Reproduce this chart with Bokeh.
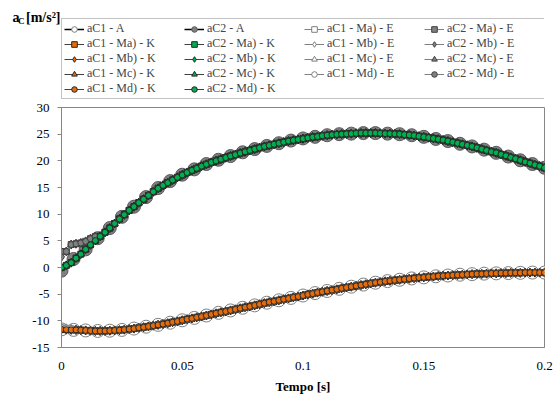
from bokeh.plotting import figure
from bokeh.models import Legend, LegendItem, LinearAxis, FixedTicker, Range1d
from bokeh.layouts import column
from bokeh.embed import file_html
from bokeh.resources import INLINE

# ---------------- data ----------------
t_k = [round(i * 0.002, 3) for i in range(101)]   # K / E sampling
t_a = [round(i * 0.005, 3) for i in range(41)]    # analytic sampling

aC2_K = [0.0, 0.4, 0.9, 1.75, 2.5, 3.4, 4.25, 5.05, 5.85, 6.6,
         7.4, 8.25, 9.1, 9.9, 10.7, 11.4, 12.15, 12.8, 13.5, 14.2,
         14.85, 15.4, 15.9, 16.4, 16.9, 17.35, 17.8, 18.2, 18.6, 19.0,
         19.35, 19.7, 20.0, 20.3, 20.6, 20.9, 21.15, 21.45, 21.7, 21.95,
         22.2, 22.45, 22.7, 22.9, 23.1, 23.3, 23.5, 23.7, 23.85, 24.0,
         24.15, 24.3, 24.45, 24.55, 24.7, 24.8, 24.9, 24.95, 25.0, 25.05,
         25.1, 25.15, 25.2, 25.2, 25.2, 25.2, 25.15, 25.1, 25.1, 25.05,
         25.0, 24.9, 24.85, 24.75, 24.6, 24.5, 24.35, 24.2, 24.05, 23.9,
         23.7, 23.5, 23.3, 23.1, 22.9, 22.7, 22.45, 22.2, 21.95, 21.7,
         21.5, 21.2, 20.95, 20.65, 20.4, 20.1, 19.8, 19.55, 19.25, 19.0,
         18.7]

aC1_K = [-11.6, -11.65, -11.7, -11.7, -11.75, -11.8, -11.85, -11.9, -11.9, -11.9,
         -11.85, -11.8, -11.75, -11.65, -11.55, -11.45, -11.3, -11.2, -11.05, -10.9,
         -10.75, -10.6, -10.45, -10.25, -10.1, -9.9, -9.7, -9.55, -9.35, -9.2,
         -9.0, -8.8, -8.6, -8.4, -8.25, -8.05, -7.85, -7.65, -7.45, -7.3,
         -7.1, -6.9, -6.7, -6.5, -6.35, -6.15, -5.95, -5.8, -5.6, -5.45,
         -5.25, -5.05, -4.9, -4.7, -4.55, -4.4, -4.25, -4.1, -3.9, -3.75,
         -3.6, -3.45, -3.3, -3.15, -3.0, -2.85, -2.75, -2.6, -2.5, -2.4,
         -2.3, -2.2, -2.1, -2.0, -1.9, -1.85, -1.75, -1.7, -1.6, -1.55,
         -1.5, -1.45, -1.4, -1.35, -1.3, -1.25, -1.2, -1.2, -1.15, -1.1,
         -1.1, -1.05, -1.05, -1.0, -1.0, -1.0, -0.95, -0.95, -0.95, -0.95,
         -0.95]

aC2_A = [-0.6, 1.6, 3.4, 5.5, 7.4, 9.5, 11.4, 13.2, 14.9, 16.2,
         17.4, 18.4, 19.4, 20.2, 20.9, 21.6, 22.2, 22.8, 23.3, 23.8,
         24.2, 24.5, 24.8, 25.0, 25.1, 25.2, 25.2, 25.1, 25.0, 24.8,
         24.5, 24.1, 23.7, 23.2, 22.7, 22.1, 21.5, 20.8, 20.1, 19.4,
         18.7]

aC1_A = [-11.6, -11.7, -11.8, -11.9, -11.85, -11.7, -11.45, -11.1, -10.75, -10.35,
         -9.9, -9.45, -9.0, -8.5, -8.05, -7.55, -7.1, -6.6, -6.15, -5.7,
         -5.25, -4.8, -4.4, -4.0, -3.6, -3.2, -2.85, -2.55, -2.3, -2.05,
         -1.85, -1.65, -1.5, -1.35, -1.25, -1.15, -1.1, -1.05, -1.0, -0.95,
         -0.95]

# start-up values where the E methods differ from K
aC2_Ma_E_start = [3.0, 3.0, 4.3, 4.45, 4.6, 4.9, 5.4, 5.8]
aC2_Mb_E_start = [2.0, 3.0, 4.3, 4.45, 4.6, 4.9, 5.4, 5.8]
aC1_E_start = [-11.3, -11.4, -11.5]

aC2_Ma_E = aC2_Ma_E_start + aC2_K[len(aC2_Ma_E_start):]
aC2_Mb_E = aC2_Mb_E_start + aC2_K[len(aC2_Mb_E_start):]
aC1_E = aC1_E_start + aC1_K[len(aC1_E_start):]

y_ticks = [-15, -10, -5, 0, 5, 10, 15, 20, 25, 30]
y_tick_labels = {-15: "-15", -10: "-10", -5: "-5", 0: "0", 5: "5",
                 10: "10", 15: "15", 20: "20", 25: "25", 30: "30"}
x_ticks = [0, 0.05, 0.1, 0.15, 0.2]
x_tick_labels = {0: "0", 0.05: "0.05", 0.1: "0.1", 0.15: "0.15", 0.2: "0.2"}

FONT = "Liberation Serif"
ORANGE = "#E46C0A"
GREEN = "#00B050"
GRAY = "#808080"
AXIS_GRAY = "#868686"

W = 557
HEAD_H = 99
MAIN_H = 301
LEFT = 61
RIGHT = 13

# ---------------- main plot ----------------
p = figure(width=W, height=MAIN_H, output_backend="svg", toolbar_location=None,
           x_range=Range1d(0, 0.2), y_range=Range1d(-15, 30),
           min_border_left=LEFT, min_border_right=RIGHT, min_border_top=8,
           min_border_bottom=53)
p.grid.visible = False
p.outline_line_color = AXIS_GRAY
p.outline_line_width = 1

p.yaxis.ticker = FixedTicker(ticks=y_ticks)
p.yaxis.major_label_overrides = y_tick_labels
p.xaxis.ticker = FixedTicker(ticks=x_ticks)
p.xaxis.major_label_overrides = x_tick_labels
for ax in (p.xaxis[0], p.yaxis[0]):
    ax.axis_line_color = AXIS_GRAY
    ax.major_tick_line_color = AXIS_GRAY
    ax.minor_tick_line_color = None
    ax.major_label_text_font = FONT
    ax.major_label_text_font_size = "13px"
    ax.major_label_text_color = "black"
p.yaxis.major_tick_out = 4
p.yaxis.major_tick_in = 0
p.yaxis.major_label_standoff = 8
p.xaxis.major_tick_out = 0
p.xaxis.major_tick_in = 0
p.xaxis.major_label_standoff = 14
p.xaxis.axis_label = "Tempo [s]"
p.xaxis.axis_label_text_font = FONT
p.xaxis.axis_label_text_font_size = "13px"
p.xaxis.axis_label_text_font_style = "bold"
p.xaxis.axis_label_text_color = "black"
p.xaxis.axis_label_standoff = 6

series = []  # (label, t, y, marker, size, fill, edge, line_color, line_width)
series.append(("aC1 - A", t_a, aC1_A, "circle", 13, "white", "#7f7f7f", "black", 1.5))
series.append(("aC2 - A", t_a, aC2_A, "circle", 13, GRAY, "#595959", "black", 1.5))
markers = {"Ma)": ("square", 6), "Mb)": ("diamond", 9), "Mc)": ("triangle", 7), "Md)": ("circle", 6)}
for m, (mk, sz) in markers.items():
    e2 = aC2_Mb_E if m == "Mb)" else aC2_Ma_E
    series.append((f"aC1 - {m} - E", t_k, aC1_E, mk, sz, "white", GRAY, GRAY, 1))
    series.append((f"aC2 - {m} - E", t_k, e2, mk, sz, GRAY, "#404040", GRAY, 1))
    series.append((f"aC1 - {m} - K", t_k, aC1_K, mk, sz, ORANGE, "#262626", "#404040", 1))
    series.append((f"aC2 - {m} - K", t_k, aC2_K, mk, sz, GREEN, "#262626", "#404040", 1))

order = ["aC1 - A", "aC2 - A", "aC1 - Ma) - E", "aC2 - Ma) - E",
         "aC1 - Ma) - K", "aC2 - Ma) - K", "aC1 - Mb) - E", "aC2 - Mb) - E",
         "aC1 - Mb) - K", "aC2 - Mb) - K", "aC1 - Mc) - E", "aC2 - Mc) - E",
         "aC1 - Mc) - K", "aC2 - Mc) - K", "aC1 - Md) - E", "aC2 - Md) - E",
         "aC1 - Md) - K", "aC2 - Md) - K"]
by_label = {s[0]: s for s in series}

for lab in order:
    _, tt, yy, mk, sz, fc, ec, lc, lw = by_label[lab]
    p.line(tt, yy, line_color=lc, line_width=lw)
    p.scatter(tt, yy, marker=mk, size=sz, fill_color=fc, line_color=ec, line_width=1)

# ---------------- header (legend + y-axis title) ----------------
# x range placed far from the data so the legend-proxy glyphs stay out of view
h = figure(width=W, height=HEAD_H, output_backend="svg", toolbar_location=None,
           x_range=Range1d(1000, 1001), y_range=Range1d(0, HEAD_H),
           x_axis_location=None, y_axis_location=None,
           min_border_left=LEFT, min_border_right=RIGHT,
           min_border_top=0, min_border_bottom=0)
h.grid.visible = False
h.outline_line_color = None

items = []
for lab in order:
    _, tt, yy, mk, sz, fc, ec, lc, lw = by_label[lab]
    r_line = h.line(tt, yy, line_color=lc, line_width=lw)
    r_pts = h.scatter(tt, yy, marker=mk, size=sz, fill_color=fc, line_color=ec, line_width=1)
    items.append(LegendItem(label=lab, renderers=[r_line, r_pts]))

legend = Legend(items=items, ncols=4, orientation="horizontal", location=(0, 0),
                label_text_font=FONT, label_text_font_size="12px",
                label_height=14, glyph_height=14, glyph_width=20,
                label_standoff=3, label_width=97, spacing=0, padding=2,
                margin=0, border_line_color=AXIS_GRAY, border_line_width=1,
                background_fill_alpha=1.0)
h.add_layout(legend, "center")

# y-axis title  a_C [m/s²]  written as three label-only axes (innermost first)
title_parts = [("[m/s²]", 82.5, "14px", 1), ("C", 78.5, "9px", -2), ("a", 82.5, "14px", -4)]
for txt, ypos, size, standoff in title_parts:
    ax = LinearAxis(ticker=FixedTicker(ticks=[ypos]),
                    major_label_overrides={ypos: txt})
    ax.axis_line_color = None
    ax.major_tick_line_color = None
    ax.minor_tick_line_color = None
    ax.major_tick_out = 0
    ax.major_tick_in = 0
    ax.major_label_standoff = standoff
    ax.major_label_text_font = FONT
    ax.major_label_text_font_size = size
    ax.major_label_text_font_style = "bold"
    ax.major_label_text_color = "black"
    h.add_layout(ax, "left")

layout = column(h, p, spacing=0)
open("out.html", "w").write(file_html(layout, INLINE))
